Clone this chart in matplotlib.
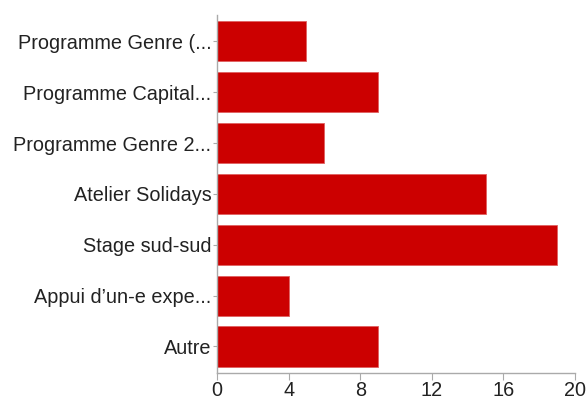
import matplotlib.pyplot as plt

plt.rcParams['font.family'] = ['Liberation Sans', 'DejaVu Sans']

categories = [
    "Programme Genre (...",
    "Programme Capital...",
    "Programme Genre 2...",
    "Atelier Solidays",
    "Stage sud-sud",
    "Appui d\u2019un-e expe...",
    "Autre",
]
counts = [5, 9, 6, 15, 19, 4, 9]
xticks = [0, 4, 8, 12, 16, 20]

fig = plt.figure(figsize=(5.88, 4.01), dpi=100)
ax = fig.add_axes([0.369, 0.070, 0.609, 0.893])

pos = list(range(len(categories)))
ax.barh(pos, counts, height=0.79, color="#cc0000", edgecolor="#e06060", linewidth=0.6)
ax.set_yticks(pos)
ax.set_yticklabels(categories)
ax.set_ylim(len(categories) - 0.48, -0.52)
ax.set_xlim(0, 20)
ax.set_xticks(xticks)

for s in ["top", "right"]:
    ax.spines[s].set_visible(False)
for s in ["left", "bottom"]:
    ax.spines[s].set_color("#aaaaaa")
    ax.spines[s].set_linewidth(1.0)
ax.tick_params(axis="both", colors="#aaaaaa", labelcolor="#222222", labelsize=14.3, length=5)
ax.tick_params(axis="y", length=3, pad=1)
ax.tick_params(axis="x", pad=1)

fig.savefig("out.png", dpi=100)
